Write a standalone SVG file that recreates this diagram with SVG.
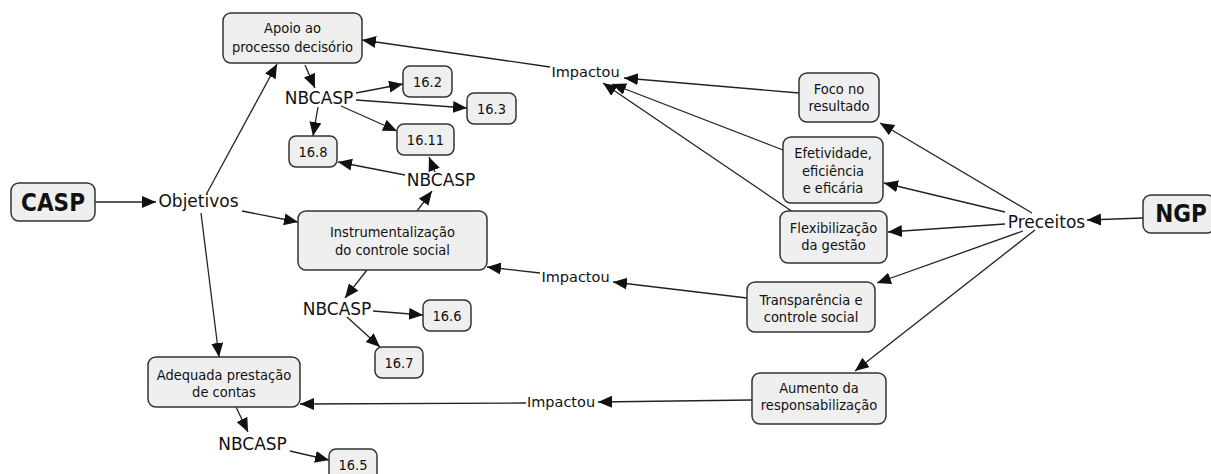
<svg xmlns="http://www.w3.org/2000/svg" width="1211" height="474" viewBox="0 0 1211 474">
<defs>
<marker id="ah" markerUnits="userSpaceOnUse" markerWidth="15" markerHeight="13" refX="14" refY="6" orient="auto">
<path d="M0,0 L14,6 L0,12 z" fill="#111"/>
</marker>
<style>
.bx{fill:#efefef;stroke:#333;stroke-width:1.5}
.t{font-family:"DejaVu Sans",Verdana,sans-serif;font-stretch:condensed;font-size:14.5px;fill:#111;text-anchor:middle}
.lk{font-family:"DejaVu Sans",Verdana,sans-serif;font-size:17px;fill:#111;text-anchor:middle}
.im{font-family:"DejaVu Sans",Verdana,sans-serif;font-size:14.5px;fill:#111;text-anchor:middle}
.bd{font-family:"DejaVu Sans",Verdana,sans-serif;font-stretch:condensed;font-size:24px;font-weight:bold;fill:#111;text-anchor:middle}
.c line{stroke:#222;stroke-width:1.3;fill:none}
.a{marker-end:url(#ah)}
</style>
</defs>
<rect width="1211" height="474" fill="#fff"/>
<g class="c" id="connectors">
<line class="a" x1="95" y1="202" x2="156" y2="202"/>
<line class="a" x1="207" y1="193" x2="277" y2="64"/>
<line class="a" x1="242" y1="211" x2="298" y2="222"/>
<line class="a" x1="201" y1="213" x2="219" y2="357"/>
<line class="a" x1="305" y1="65" x2="315" y2="88"/>
<line class="a" x1="356" y1="93" x2="403" y2="84"/>
<line class="a" x1="356" y1="100" x2="467" y2="108"/>
<line class="a" x1="341" y1="106" x2="397" y2="131"/>
<line class="a" x1="318" y1="107" x2="313" y2="136"/>
<line class="a" x1="550" y1="67" x2="362" y2="40"/>
<line class="a" x1="799" y1="93" x2="624" y2="78"/>
<line class="a" x1="783" y1="150" x2="612" y2="84"/>
<line class="a" x1="793" y1="212" x2="603" y2="83"/>
<line class="a" x1="435" y1="172" x2="429" y2="157"/>
<line class="a" x1="417" y1="211" x2="432" y2="191"/>
<line class="a" x1="405" y1="175" x2="338" y2="162"/>
<line class="a" x1="540" y1="273" x2="487" y2="267"/>
<line class="a" x1="747" y1="298" x2="613" y2="282"/>
<line class="a" x1="367" y1="270" x2="345" y2="298"/>
<line class="a" x1="373" y1="311" x2="423" y2="315"/>
<line class="a" x1="347" y1="317" x2="380" y2="347"/>
<line class="a" x1="752" y1="400" x2="598" y2="402"/>
<line class="a" x1="526" y1="403" x2="300" y2="404"/>
<line class="a" x1="236" y1="407" x2="248" y2="432"/>
<line class="a" x1="290" y1="451" x2="329" y2="460"/>
<line class="a" x1="1143" y1="218" x2="1087" y2="220"/>
<line class="a" x1="1032" y1="213" x2="880" y2="123"/>
<line class="a" x1="1005" y1="212" x2="884" y2="183"/>
<line class="a" x1="1005" y1="224" x2="888" y2="232"/>
<line class="a" x1="1023" y1="231" x2="877" y2="283"/>
<line class="a" x1="1035" y1="230" x2="855" y2="371"/>
</g>
<g id="casp"><rect class="bx" x="11" y="183" width="84" height="38" rx="8"/><text class="bd" x="53" y="211">CASP</text></g>
<g id="ngp"><rect class="bx" x="1143" y="195" width="72" height="38" rx="8"/><text class="bd" x="1181" y="222">NGP</text></g>
<g id="objetivos"><text class="lk" x="198.5" y="207">Objetivos</text></g>
<g id="preceitos"><text class="lk" x="1046.5" y="228">Preceitos</text></g>
<g id="apoio"><rect class="bx" x="223" y="13" width="139" height="50" rx="8"/><text class="t" x="292.5" y="33">Apoio ao</text><text class="t" x="292.5" y="52">processo decisório</text></g>
<g id="instr"><rect class="bx" x="298" y="211" width="189" height="59" rx="8"/><text class="t" x="392.5" y="237">Instrumentalização</text><text class="t" x="392.5" y="255">do controle social</text></g>
<g id="adequada"><rect class="bx" x="148" y="357" width="152" height="50" rx="8"/><text class="t" x="224" y="380">Adequada prestação</text><text class="t" x="224" y="397">de contas</text></g>
<g id="foco"><rect class="bx" x="799" y="73" width="80" height="49" rx="8"/><text class="t" x="839" y="94">Foco no</text><text class="t" x="839" y="111">resultado</text></g>
<g id="efetividade"><rect class="bx" x="783" y="137" width="100" height="66" rx="8"/><text class="t" x="833" y="158">Efetividade,</text><text class="t" x="833" y="176">eficiência</text><text class="t" x="833" y="193"> e eficária</text></g>
<g id="flex"><rect class="bx" x="780" y="211" width="107" height="52" rx="8"/><text class="t" x="833.5" y="233">Flexibilização</text><text class="t" x="833.5" y="250">da gestão</text></g>
<g id="transp"><rect class="bx" x="747" y="282" width="128" height="50" rx="8"/><text class="t" x="811" y="305">Transparência e</text><text class="t" x="811" y="322">controle social</text></g>
<g id="aumento"><rect class="bx" x="752" y="373" width="134" height="51" rx="8"/><text class="t" x="819" y="393">Aumento da</text><text class="t" x="819" y="410">responsabilização</text></g>
<g id="nbcasp1"><text class="lk" x="319" y="104">NBCASP</text></g>
<g id="nbcasp2"><text class="lk" x="441" y="186">NBCASP</text></g>
<g id="nbcasp3"><text class="lk" x="337" y="315">NBCASP</text></g>
<g id="nbcasp4"><text class="lk" x="252.5" y="450">NBCASP</text></g>
<g id="imp1"><text class="im" x="585.5" y="77">Impactou</text></g>
<g id="imp2"><text class="im" x="575.5" y="282">Impactou</text></g>
<g id="imp3"><text class="im" x="561" y="407">Impactou</text></g>
<g id="n162"><rect class="bx" x="403" y="66" width="49" height="31" rx="7"/><text class="t" x="427.5" y="86.5">16.2</text></g>
<g id="n163"><rect class="bx" x="467" y="93" width="49" height="31" rx="7"/><text class="t" x="491.5" y="113.5">16.3</text></g>
<g id="n1611"><rect class="bx" x="397" y="124" width="57" height="31" rx="7"/><text class="t" x="425.5" y="144.5">16.11</text></g>
<g id="n168"><rect class="bx" x="289" y="136" width="48" height="31" rx="7"/><text class="t" x="313" y="156.5">16.8</text></g>
<g id="n166"><rect class="bx" x="423" y="300" width="48" height="31" rx="7"/><text class="t" x="447" y="320.5">16.6</text></g>
<g id="n167"><rect class="bx" x="375" y="347" width="48" height="31" rx="7"/><text class="t" x="399" y="367.5">16.7</text></g>
<g id="n165"><rect class="bx" x="329" y="449" width="48" height="31" rx="7"/><text class="t" x="353" y="469.5">16.5</text></g>
</svg>
